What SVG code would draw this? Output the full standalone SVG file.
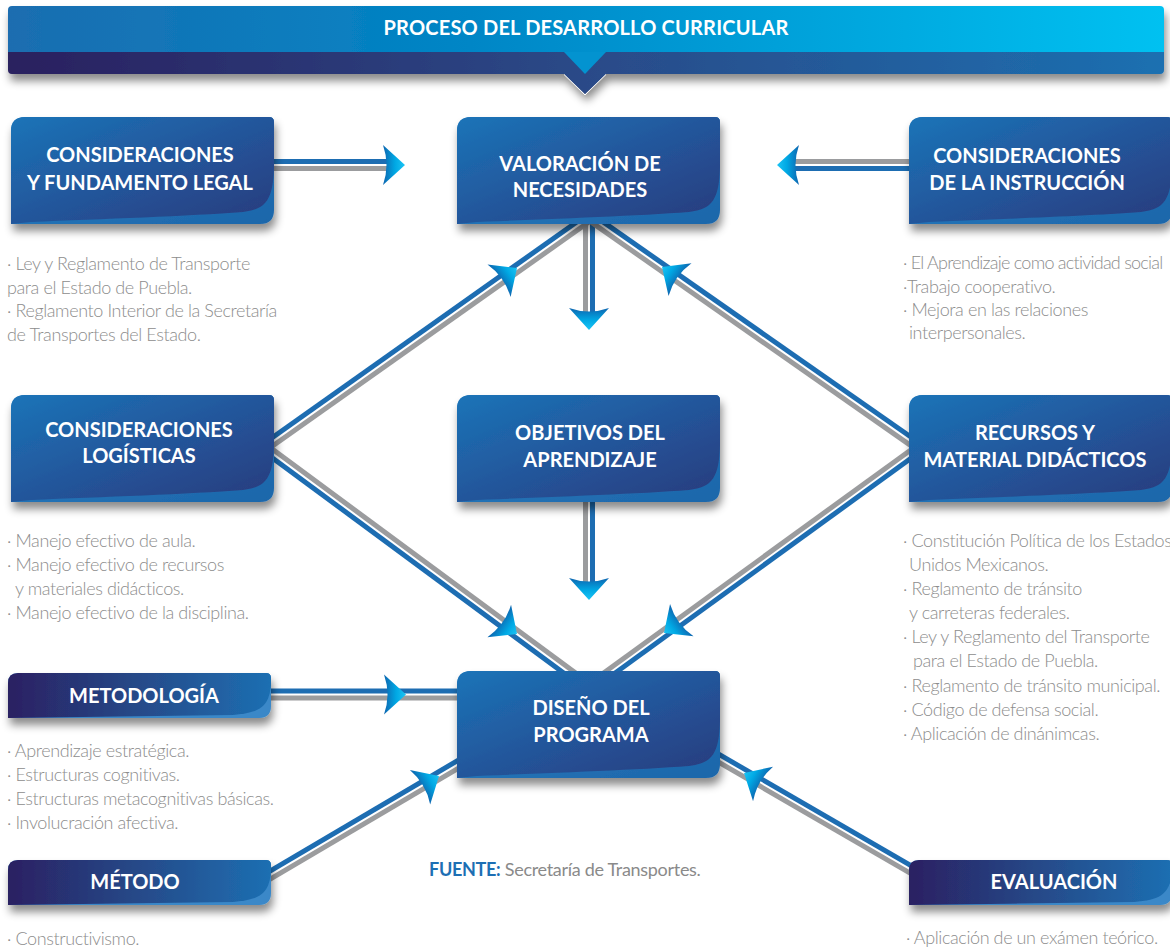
<svg xmlns="http://www.w3.org/2000/svg" xmlns:xlink="http://www.w3.org/1999/xlink" width="1170" height="952" viewBox="0 0 1170 952">
<style>
.t{font-family:Lato,"Liberation Sans",sans-serif;font-weight:700;font-size:20px;fill:#fff;text-anchor:middle}
.d{font-family:Lato,"Liberation Sans",sans-serif;font-weight:300;font-size:18px;fill:#8d8d8d;letter-spacing:-0.4px}
.cb{stroke:#1d6db2;stroke-width:5;fill:none}
.cg{stroke:#9b9c9e;stroke-width:5;fill:none}
</style>
<defs>
<linearGradient id="boxG" x1="0" y1="0" x2="1" y2="1">
<stop offset="0" stop-color="#1b74b8"/><stop offset="0.55" stop-color="#245398"/><stop offset="1" stop-color="#2a3b7c"/>
</linearGradient>
<linearGradient id="curlG" x1="0" y1="0" x2="1" y2="1">
<stop offset="0" stop-color="#2d80c2"/><stop offset="1" stop-color="#1c66aa"/>
</linearGradient>
<linearGradient id="barG" x1="0" y1="0" x2="1" y2="0">
<stop offset="0" stop-color="#2a2062"/><stop offset="0.5" stop-color="#264a89"/><stop offset="1" stop-color="#1d6fb2"/>
</linearGradient>
<linearGradient id="headTop" x1="0" y1="0" x2="1" y2="0">
<stop offset="0" stop-color="#1b6db0"/><stop offset="0.4" stop-color="#0086c6"/><stop offset="1" stop-color="#00c1f1"/>
</linearGradient>
<linearGradient id="headBot" x1="0" y1="0" x2="1" y2="0">
<stop offset="0" stop-color="#29205f"/><stop offset="0.5" stop-color="#2a4a88"/><stop offset="1" stop-color="#1c70b1"/>
</linearGradient>
<linearGradient id="arrowG" x1="0" y1="0" x2="1" y2="0">
<stop offset="0" stop-color="#0e66b0"/><stop offset="0.55" stop-color="#00a8e4"/><stop offset="1" stop-color="#1cc4f4"/>
</linearGradient>
<filter id="sh" x="-10%" y="-20%" width="125%" height="160%">
<feDropShadow dx="2" dy="7" stdDeviation="4" flood-color="#000" flood-opacity="0.45"/>
</filter>
<g id="box">
<path d="M0,107 L0,14 Q0,0 14,0 L258,0 Q263,0 263,5 L263,93 Q263,107 249,107 Z" fill="url(#curlG)"/>
<path d="M0,107 L0,14 Q0,0 14,0 L258,0 Q263,0 263,5 L263,50 C262,82 256,92 232,95 C180,99 90,102 20,105 L0,107 Z" fill="url(#boxG)"/>
</g>
<g id="bar">
<path d="M0,45 L0,10 Q0,0 10,0 L258,0 Q263,0 263,5 L263,33 Q263,45 251,45 Z" fill="#3a88c8"/>
<path d="M0,45 L0,10 Q0,0 10,0 L258,0 Q263,0 263,5 L263,12 C261,35 250,40 225,42 L0,45 Z" fill="url(#barG)"/>
</g>
<path id="ah" d="M0,0 L-22,-20 Q-15,0 -22,20 Z" fill="url(#arrowG)"/>
</defs>

<rect width="1170" height="952" fill="#fff"/>

<g id="header">
<g filter="url(#sh)">
<path d="M8,52 L1164,52 L1164,70 Q1164,74 1160,74 L606,74 L585,94 L564,74 L12,74 Q8,74 8,70 Z" fill="url(#headBot)"/>
<path d="M8,52 L8,10 Q8,6 12,6 L1160,6 Q1164,6 1164,10 L1164,52 Z" fill="url(#headTop)"/>
</g>
<path d="M564,52 L606,52 L585,74 Z" fill="#0393d0"/>
<path d="M564,74.5 L585,95 L606,74.5" fill="none" stroke="#fff" stroke-width="1"/>
<text x="586" y="35" class="t" style="letter-spacing:0.2px">PROCESO DEL DESARROLLO CURRICULAR</text>
</g>

<g id="connectors">
<path class="cb" d="M268,161.5 H388"/><path class="cg" d="M268,168.5 H388"/>
<path class="cg" d="M794,161.5 H916"/><path class="cb" d="M794,168.5 H916"/>
<path class="cg" d="M585.5,220 V314"/><path class="cb" d="M592.5,220 V314"/>
<path class="cg" d="M585.5,498 V584"/><path class="cb" d="M592.5,498 V584"/>
<path class="cb" d="M265,691 H462"/><path class="cg" d="M265,698 H462"/>
<path class="cb" d="M258,447.7 L588,214"/><path class="cg" d="M262,453.5 L592,219.8"/>
<path class="cb" d="M592,214.1 L922,444.8"/><path class="cg" d="M588,219.9 L918,450.6"/>
<path class="cg" d="M264.1,443.1 L582.1,677.8"/><path class="cb" d="M259.9,448.7 L577.9,683.4"/>
<path class="cg" d="M918,444.7 L596,678.4"/><path class="cb" d="M922,450.3 L600,684"/>
<path class="cb" d="M260.2,876.9 L465.2,756.1"/><path class="cg" d="M263.8,882.9 L468.8,762.1"/>
<path class="cb" d="M711.8,750.2 L921.8,871.8"/><path class="cg" d="M708.3,756.2 L918.3,877.8"/>
<use href="#ah" transform="translate(405,165)"/>
<use href="#ah" transform="translate(777,165) rotate(180)"/>
<use href="#ah" transform="translate(589,330) rotate(90)"/>
<use href="#ah" transform="translate(589,600) rotate(90)"/>
<use href="#ah" transform="translate(517,268) rotate(-35.3)"/>
<use href="#ah" transform="translate(662,267) rotate(-145)"/>
<use href="#ah" transform="translate(517,634) rotate(36.2)"/>
<use href="#ah" transform="translate(664,633) rotate(144)"/>
<use href="#ah" transform="translate(406,694.5)"/>
<use href="#ah" transform="translate(439,776) rotate(-30.5)"/>
<use href="#ah" transform="translate(744,773) rotate(-150)"/>
</g>

<g id="n-legal">
<use href="#box" x="11" y="117" filter="url(#sh)"/>
<text class="t" x="140" y="162">CONSIDERACIONES</text>
<text class="t" x="140" y="190">Y FUNDAMENTO LEGAL</text>
<text class="d" x="7" y="270">· Ley y Reglamento de Transporte</text>
<text class="d" x="7" y="294">para el Estado de Puebla.</text>
<text class="d" x="7" y="317">· Reglamento Interior de la Secretaría</text>
<text class="d" x="7" y="341">de Transportes del Estado.</text>
</g>

<g id="n-valoracion">
<use href="#box" x="457" y="117" filter="url(#sh)"/>
<text class="t" x="580" y="171">VALORACIÓN DE</text>
<text class="t" x="580" y="197">NECESIDADES</text>
</g>

<g id="n-instruccion">
<use href="#box" x="909" y="117" filter="url(#sh)"/>
<text class="t" x="1027" y="163">CONSIDERACIONES</text>
<text class="t" x="1027" y="190">DE LA INSTRUCCIÓN</text>
<text class="d" x="903" y="269" style="letter-spacing:-0.75px">· El Aprendizaje como actividad social</text>
<text class="d" x="903" y="293">·Trabajo cooperativo.</text>
<text class="d" x="903" y="316">· Mejora en las relaciones</text>
<text class="d" x="909" y="339">interpersonales.</text>
</g>

<g id="n-logisticas">
<use href="#box" x="11" y="395" filter="url(#sh)"/>
<text class="t" x="139" y="437">CONSIDERACIONES</text>
<text class="t" x="139" y="463">LOGÍSTICAS</text>
<text class="d" x="7" y="547">· Manejo efectivo  de aula.</text>
<text class="d" x="7" y="571">· Manejo efectivo de recursos</text>
<text class="d" x="15" y="595">y materiales didácticos.</text>
<text class="d" x="7" y="619">· Manejo efectivo de la disciplina.</text>
</g>

<g id="n-objetivos">
<use href="#box" x="457" y="395" filter="url(#sh)"/>
<text class="t" x="590" y="440">OBJETIVOS DEL</text>
<text class="t" x="590" y="467">APRENDIZAJE</text>
</g>

<g id="n-recursos">
<use href="#box" x="909" y="395" filter="url(#sh)"/>
<text class="t" x="1035" y="440">RECURSOS Y</text>
<text class="t" x="1035" y="467">MATERIAL DIDÁCTICOS</text>
<text class="d" x="903" y="547">· Constitución Política de los Estados</text>
<text class="d" x="909" y="571">Unidos Mexicanos.</text>
<text class="d" x="903" y="595">· Reglamento de tránsito</text>
<text class="d" x="909" y="619">y carreteras federales.</text>
<text class="d" x="903" y="643">· Ley y Reglamento del Transporte</text>
<text class="d" x="913" y="667">para el Estado de Puebla.</text>
<text class="d" x="903" y="692">· Reglamento de tránsito municipal.</text>
<text class="d" x="903" y="716">· Código de defensa social.</text>
<text class="d" x="903" y="740">· Aplicación de dinánimcas.</text>
</g>

<g id="n-metodologia">
<use href="#bar" x="8" y="673" filter="url(#sh)"/>
<text class="t" x="144" y="703">METODOLOGÍA</text>
<text class="d" x="7" y="757">· Aprendizaje estratégica.</text>
<text class="d" x="7" y="781">· Estructuras cognitivas.</text>
<text class="d" x="7" y="805">· Estructuras metacognitivas básicas.</text>
<text class="d" x="7" y="829">· Involucración afectiva.</text>
</g>

<g id="n-diseno">
<use href="#box" x="457" y="671" filter="url(#sh)"/>
<text class="t" x="591" y="715">DISEÑO DEL</text>
<text class="t" x="591" y="742">PROGRAMA</text>
</g>

<g id="n-metodo">
<use href="#bar" x="8" y="860" filter="url(#sh)"/>
<text class="t" x="135" y="889">MÉTODO</text>
<text class="d" x="7" y="945">· Constructivismo.</text>
</g>

<g id="n-evaluacion">
<use href="#bar" x="909" y="860" filter="url(#sh)"/>
<text class="t" x="1054" y="889">EVALUACIÓN</text>
<text class="d" x="906" y="944">· Aplicación de un exámen teórico.</text>
</g>

<g id="fuente">
<text x="429" y="876" style="font-family:Lato,'Liberation Sans',sans-serif;font-size:18px;letter-spacing:-0.3px"><tspan font-weight="700" fill="#1d6fb4">FUENTE:</tspan><tspan fill="#8a8a8a"> Secretaría de Transportes.</tspan></text>
</g>
</svg>
